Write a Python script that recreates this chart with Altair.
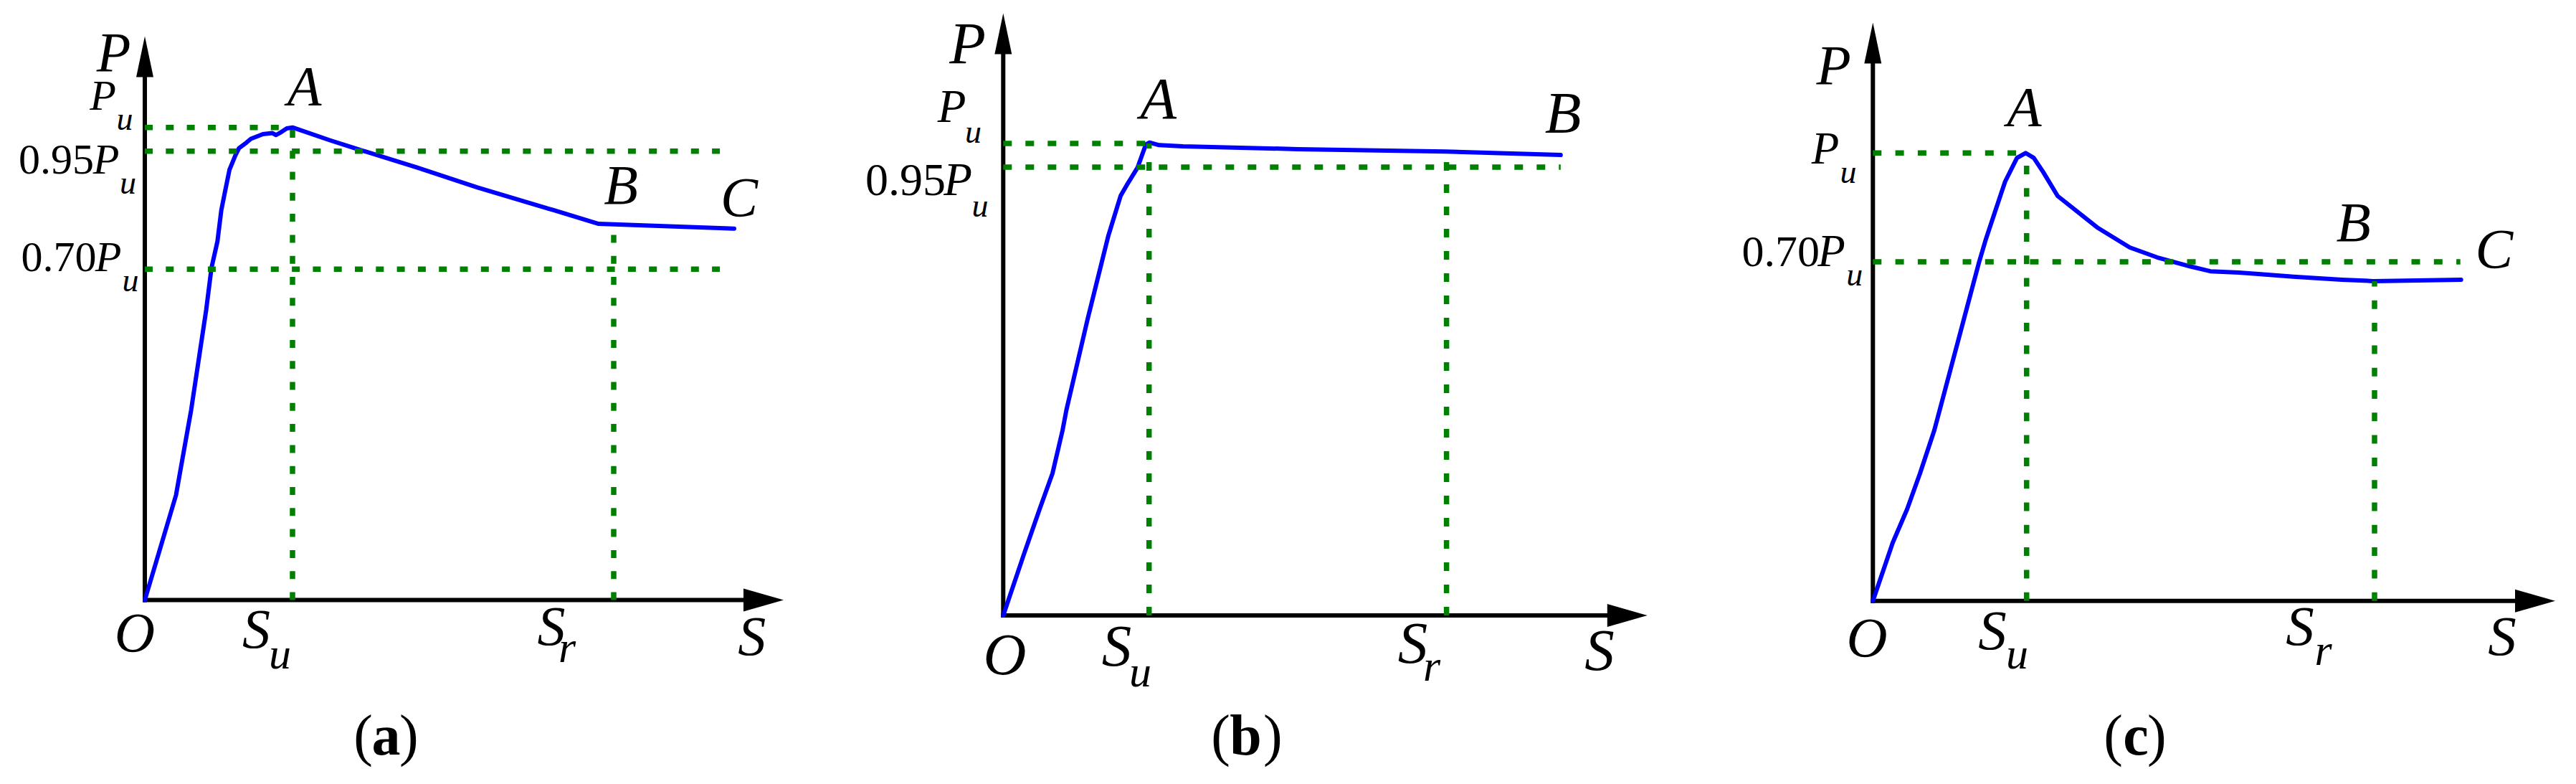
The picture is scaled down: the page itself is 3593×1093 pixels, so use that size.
import altair as alt
import pandas as pd

# ---------------- values ----------------
# S in arbitrary displacement units, P in units of P_u

# Panel (a)
A_S = [0, 0.435, 0.646, 0.856, 0.93, 1.013, 1.067, 1.113, 1.18, 1.263, 1.313,
       1.417, 1.48, 1.647, 1.78, 1.83, 1.90, 1.98, 2.06, 2.58, 2.89, 3.80,
       4.64, 5.70, 6.33, 6.54, 8.22]
A_P = [0, 0.222, 0.402, 0.614, 0.703, 0.759, 0.825, 0.860, 0.910, 0.941, 0.956,
       0.968, 0.976, 0.986, 0.988, 0.984, 0.990, 0.998, 1.0, 0.973, 0.958, 0.915,
       0.873, 0.825, 0.796, 0.795, 0.786]
A_HLINE_P = [1.0, 0.95, 0.70]
A_HLINE_END = [2.0, 8.04, 8.04]
A_VLINE_S = [2.06, 6.54]
A_VLINE_TOP = [1.0, 0.795]
A_TIPS = [8.91, 1.193]
A_LABELS = [
    ("P", -0.435, 1.1195, "L"),
    ("P", -0.585, 1.037, "M"), ("u", -0.28, 0.995, "u"),
    ("0.95", -0.71, 0.903, "N"), ("P", -0.54, 0.903, "M"), ("u", -0.235, 0.860, "u"),
    ("0.70", -0.675, 0.696, "N"), ("P", -0.51, 0.696, "M"), ("u", -0.20, 0.653, "u"),
    ("A", 2.225, 1.048, "L"), ("B", 6.64, 0.838, "L"), ("C", 8.29, 0.813, "L"),
    ("O", -0.14, -0.108, "L"),
    ("S", 1.555, -0.101, "L"), ("u", 1.885, -0.145, "s"),
    ("S", 5.67, -0.095, "L"), ("r", 5.89, -0.132, "s"),
    ("S", 8.467, -0.116, "L"),
    ("(", 3.18, -0.327, "("), ("a", 3.365, -0.327, "b"), (")", 3.55, -0.327, ")"),
]

# Panel (b)
B_S = [0, 0.287, 0.507, 0.687, 0.827, 0.881, 1.174, 1.467, 1.637, 1.724, 1.874,
       1.99, 2.04, 2.174, 2.507, 4.107, 6.161, 7.775]
B_P = [0, 0.129, 0.225, 0.301, 0.392, 0.435, 0.626, 0.805, 0.889, 0.912, 0.949,
       0.998, 1.002, 0.9965, 0.994, 0.988, 0.983, 0.9755]
B_HLINE_P = [1.0, 0.95]
B_HLINE_END = [2.0, 7.775]
B_VLINE_S = [2.034, 6.183]
B_VLINE_TOP = [1.0, 0.983]
B_TIPS = [8.985, 1.276]
B_LABELS = [
    ("P", -0.498, 1.170, "L"),
    ("P", -0.718, 1.0456, "M"), ("u", -0.418, 1.001, "u"),
    ("0.95", -0.803, 0.891, "N"), ("P", -0.633, 0.891, "M"), ("u", -0.323, 0.845, "u"),
    ("A", 2.162, 1.053, "L"), ("B", 7.807, 1.023, "L"),
    ("O", 0.022, -0.125, "L"),
    ("S", 1.582, -0.106, "L"), ("u", 1.912, -0.150, "s"),
    ("S", 5.712, -0.0997, "L"), ("r", 5.977, -0.139, "s"),
    ("S", 8.317, -0.1155, "L"),
    ("(", 3.167, -0.295, "("), ("b", 3.382, -0.295, "b"), (")", 3.627, -0.295, ")"),
]

# Panel (c)
C_S = [0, 0.277, 0.477, 0.657, 0.857, 1.344, 1.477, 1.577, 1.71, 1.844, 2.01,
       2.13, 2.244, 2.377, 2.577, 3.127, 3.583, 3.964, 4.42, 4.707, 5.105, 5.377,
       5.866, 6.544, 6.977, 8.204]
C_P = [0, 0.130, 0.2045, 0.2845, 0.381, 0.674, 0.754, 0.808, 0.872, 0.936, 0.989,
       1.0, 0.989, 0.957, 0.904, 0.834, 0.789, 0.767, 0.747, 0.736, 0.733, 0.730,
       0.724, 0.717, 0.714, 0.717]
C_HLINE_P = [1.0, 0.757]
C_HLINE_END = [2.13, 8.194]
C_VLINE_S = [2.144, 6.997]
C_VLINE_TOP = [1.0, 0.714]
C_TIPS = [9.517, 1.291]
C_LABELS = [
    ("P", -0.548, 1.155, "L"),
    ("P", -0.663, 0.976, "M"), ("u", -0.343, 0.933, "u"),
    ("0.70", -0.743, 0.748, "N"), ("P", -0.578, 0.748, "M"), ("u", -0.256, 0.704, "u"),
    ("A", 2.111, 1.061, "L"), ("B", 6.702, 0.8035, "L"), ("C", 8.666, 0.744, "L"),
    ("O", -0.083, -0.124, "L"),
    ("S", 1.667, -0.108, "L"), ("u", 2.012, -0.151, "s"),
    ("S", 5.957, -0.098, "L"), ("r", 6.282, -0.143, "s"),
    ("S", 8.777, -0.120, "L"),
    ("(", 3.487, -0.343, "("), ("c", 3.667, -0.343, "b"), (")", 3.827, -0.343, ")"),
]

# ---------------- layout / style ----------------
BLUE = "#0000ff"
GREEN = "#008000"
FONT = "Liberation Serif"
TOP, BOTTOM = 8, 1080
H = BOTTOM - TOP
YARROW = "M0,-1L0.42,1L-0.42,1Z"
XARROW = "M1,0L-1,-0.57L-1,0.57Z"

FRAMES = {
    "a": dict(ox=202, oy=836.5, unit=658.8, left=8, right=1196,
              sizes=dict(L=78, M=60, N=60, u=46, s=62, b=80), dash=[11, 18.3]),
    "b": dict(ox=1399.3, oy=858, unit=658.0, left=1196, right=2400,
              sizes=dict(L=83, M=65, N=64, u=46, s=62, b=80), dash=[12, 19]),
    "c": dict(ox=2612.3, oy=837.7, unit=624.4, left=2400, right=3585,
              sizes=dict(L=79, M=63, N=62, u=46, s=62, b=80), dash=[12, 19.3]),
}


def text_mark(kind, size):
    base = dict(font=FONT, fontSize=size, color="black", baseline="alphabetic")
    if kind in ("L", "M", "u", "s"):
        return dict(base, fontStyle="italic", align="center")
    if kind == "N":
        return dict(base, align="right")
    if kind == "b":
        return dict(base, fontWeight="bold", align="center")
    if kind == "(":
        return dict(base, align="right")
    return dict(base, align="left")


def panel(S, P, hp, he, vs, vt, tips, labels, fr):
    ox, oy, unit = fr["ox"], fr["oy"], fr["unit"]
    W = fr["right"] - fr["left"]
    xs = alt.Scale(domain=[(fr["left"] - ox) / 100, (fr["right"] - ox) / 100], nice=False, zero=False)
    ys = alt.Scale(domain=[(oy - BOTTOM) / unit, (oy - TOP) / unit], nice=False, zero=False)

    def X(f):
        return alt.X(f, type="quantitative", scale=xs, axis=None)

    def Y(f):
        return alt.Y(f, type="quantitative", scale=ys, axis=None)

    axes_df = pd.DataFrame({"x0": [0, 0], "x1": [tips[0] - 0.40, 0],
                            "y0": [0, 0], "y1": [0, tips[1] - 40 / unit]})
    axes = alt.Chart(axes_df).mark_rule(color="black", strokeWidth=6, strokeCap="square").encode(
        x=X("x0"), x2="x1", y=Y("y0"), y2="y1")

    yarrow = alt.Chart(pd.DataFrame({"x": [0], "y": [tips[1] - 28.5 / unit]})).mark_point(
        shape=YARROW, size=3249, filled=True, color="black", opacity=1, strokeWidth=0
    ).encode(x=X("x"), y=Y("y"))
    xarrow = alt.Chart(pd.DataFrame({"x": [tips[0] - 0.28], "y": [0]})).mark_point(
        shape=XARROW, size=3136, filled=True, color="black", opacity=1, strokeWidth=0
    ).encode(x=X("x"), y=Y("y"))

    curve = alt.Chart(pd.DataFrame({"s": S, "p": P, "i": list(range(len(S)))})).mark_line(
        color=BLUE, strokeWidth=6, strokeJoin="round", strokeCap="round"
    ).encode(x=X("s"), y=Y("p"), order="i:Q")

    hdash = alt.Chart(pd.DataFrame({"x0": [0] * len(hp), "x1": he, "y": hp})).mark_rule(
        color=GREEN, strokeWidth=7.5, strokeDash=fr["dash"], strokeCap="butt"
    ).encode(x=X("x0"), x2="x1", y=Y("y"))
    vdash = alt.Chart(pd.DataFrame({"s": vs, "y0": [0] * len(vs), "y1": vt})).mark_rule(
        color=GREEN, strokeWidth=7.5, strokeDash=fr["dash"], strokeCap="butt"
    ).encode(x=X("s"), y=Y("y0"), y2="y1")

    ldf = pd.DataFrame(labels, columns=["t", "s", "p", "k"])
    texts = []
    for kind in ["L", "M", "N", "u", "s", "b", "(", ")"]:
        sub = ldf[ldf["k"] == kind]
        if len(sub) == 0:
            continue
        size = fr["sizes"].get(kind, fr["sizes"]["b"])
        texts.append(alt.Chart(sub).mark_text(**text_mark(kind, size)).encode(
            x=X("s"), y=Y("p"), text=alt.Text("t:N")))

    return alt.layer(axes, yarrow, xarrow, curve, hdash, vdash, *texts).properties(width=W, height=H)


pa = panel(A_S, A_P, A_HLINE_P, A_HLINE_END, A_VLINE_S, A_VLINE_TOP, A_TIPS, A_LABELS, FRAMES["a"])
pb = panel(B_S, B_P, B_HLINE_P, B_HLINE_END, B_VLINE_S, B_VLINE_TOP, B_TIPS, B_LABELS, FRAMES["b"])
pc = panel(C_S, C_P, C_HLINE_P, C_HLINE_END, C_VLINE_S, C_VLINE_TOP, C_TIPS, C_LABELS, FRAMES["c"])

chart = alt.hconcat(pa, pb, pc, spacing=0, bounds="flush").properties(
    padding=0, background="white"
).configure_view(strokeWidth=0)

chart.save("out.html", embed_options={"renderer": "svg", "actions": False})
